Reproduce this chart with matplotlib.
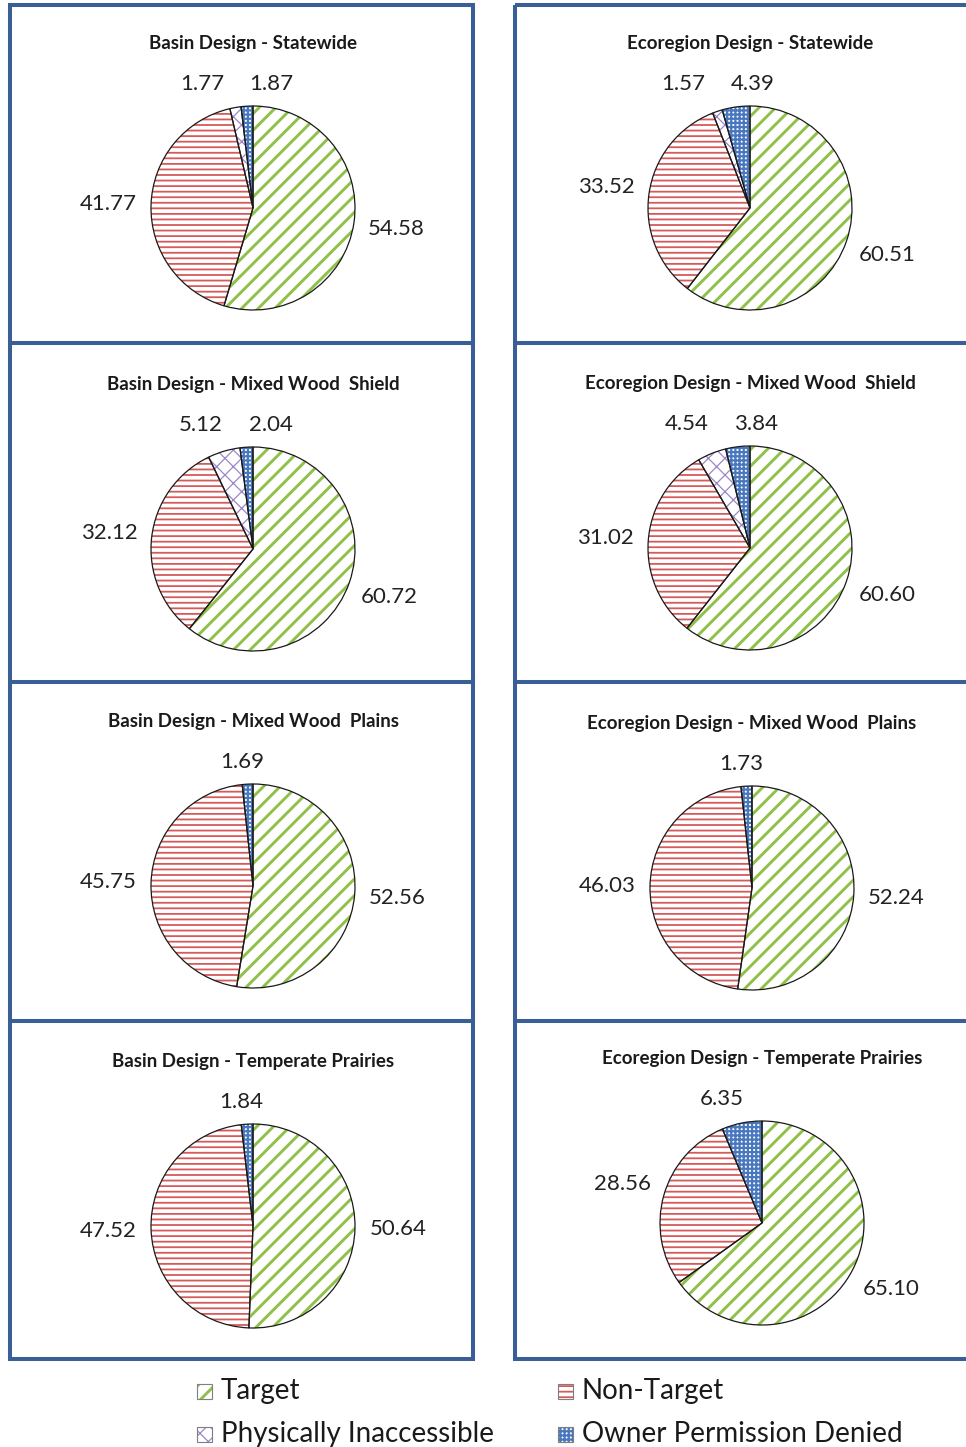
import numpy as np
import matplotlib.pyplot as plt
from matplotlib.patches import Rectangle

plt.rcParams["font.family"] = ["Lato", "DejaVu Sans"]
plt.rcParams["hatch.linewidth"] = 2.0

# categories in pie order (clockwise from 12 o'clock)
categories = ["Target", "Non-Target", "Physically Inaccessible", "Owner Permission Denied"]

titles = [
    "Basin Design - Statewide",
    "Ecoregion Design - Statewide",
    "Basin Design - Mixed Wood  Shield",
    "Ecoregion Design - Mixed Wood  Shield",
    "Basin Design - Mixed Wood  Plains",
    "Ecoregion Design - Mixed Wood  Plains",
    "Basin Design - Temperate Prairies",
    "Ecoregion Design - Temperate Prairies",
]

basin_statewide = [54.58, 41.77, 1.77, 1.87]
eco_statewide = [60.51, 33.52, 1.57, 4.39]
basin_mw_shield = [60.72, 32.12, 5.12, 2.04]
eco_mw_shield = [60.60, 31.02, 4.54, 3.84]
basin_mw_plains = [52.56, 45.75, 0.0, 1.69]
eco_mw_plains = [52.24, 46.03, 0.0, 1.73]
basin_prairies = [50.64, 47.52, 0.0, 1.84]
eco_prairies = [65.10, 28.56, 0.0, 6.35]

panels = [basin_statewide, eco_statewide, basin_mw_shield, eco_mw_shield,
          basin_mw_plains, eco_mw_plains, basin_prairies, eco_prairies]

# styling
hatch_colors = ["#8FC049", "#D55A5A", "#9C86C6", "#4A78BE"]
hatches = ["//", "---", "xx", "++++"]
hatch_lws = [2.1, 1.3, 0.9, 1.6]
box_color = "#3A5E96"

# layout (pixels)
W, H = 966, 1447
R = 102
L = 1.75
centers = [(253, 208), (750, 208), (253, 549), (750, 548),
           (253, 886), (752, 888), (253, 1226), (762, 1223)]

fig = plt.figure(figsize=(W / 100, H / 100), dpi=100)

# background overlay in pixel coordinates
bg = fig.add_axes([0, 0, 1, 1])
bg.set_xlim(0, W)
bg.set_ylim(H, 0)
bg.axis("off")

lw_box = 2.9
bg.add_patch(Rectangle((10, 5), 463, 1354, fill=False, ec=box_color, lw=lw_box))
bg.add_patch(Rectangle((515, 5), 480, 1354, fill=False, ec=box_color, lw=lw_box,
                       clip_on=False))
for yy in [343, 682, 1021]:
    bg.plot([10, 473], [yy, yy], color=box_color, lw=lw_box, solid_capstyle="butt")
    bg.plot([515, W + 10], [yy, yy], color=box_color, lw=lw_box, solid_capstyle="butt")


def set_hatch_lw(patch, lw):
    if hasattr(patch, "set_hatch_linewidth"):
        patch.set_hatch_linewidth(lw)


def label_positions(vals):
    total = sum(vals)
    mids = []
    start = 90.0
    for v in vals:
        sweep = v / total * 360
        mids.append(np.deg2rad(start - sweep / 2))
        start -= sweep
    pos = [None] * len(vals)
    for i in range(2):
        pos[i] = (1.42 * np.cos(mids[i]), 1.42 * np.sin(mids[i]))
    ox = 2.0 * np.cos(mids[3])
    if vals[2] > 0:
        ox += 0.3
        pos[2] = (ox - 0.68, 1.22)
    pos[3] = (ox, 1.22)
    return pos


for vals, title, (cx, cy) in zip(panels, titles, centers):
    size = 2 * L * R
    ax = fig.add_axes([(cx - L * R) / W, 1 - (cy + L * R) / H, size / W, size / H])

    idx = [i for i, v in enumerate(vals) if v > 0]
    v = [vals[i] for i in idx]
    wedges, _ = ax.pie(v, startangle=90, counterclock=False, radius=1,
                       colors=["white"] * len(v), hatch=[hatches[i] for i in idx],
                       wedgeprops=dict(linewidth=0))
    for w, i in zip(wedges, idx):
        w.set_edgecolor(hatch_colors[i])
        w.set_linewidth(0)
        set_hatch_lw(w, hatch_lws[i])
    outline, _ = ax.pie(v, startangle=90, counterclock=False, radius=1,
                        wedgeprops=dict(fill=False, edgecolor="#1a1a1a", linewidth=0.9))
    ax.set_xlim(-L, L)
    ax.set_ylim(-L, L)
    ax.axis("off")

    for i, p in enumerate(label_positions(vals)):
        if vals[i] > 0 and p is not None:
            ax.text(p[0], p[1], f"{vals[i]:.2f}", ha="center", va="center",
                    fontsize=16, color="#222222")
    ax.text(0, 1.61, title, ha="center", va="center", fontsize=13.5,
            fontweight="bold", color="#1a1a1a")

# legend
leg_items = [(197, 1391, 0), (558, 1391, 1), (197, 1434, 2), (558, 1434, 3)]
for x, y, i in leg_items:
    p = Rectangle((x, y - 7), 15, 15, facecolor="white", hatch=hatches[i],
                  edgecolor=hatch_colors[i], lw=0)
    set_hatch_lw(p, hatch_lws[i])
    bg.add_patch(p)
    bg.add_patch(Rectangle((x, y - 7), 15, 15, fill=False, edgecolor="#7f7f7f", lw=0.8))
    bg.text(x + 24, y, categories[i], ha="left", va="center", fontsize=20,
            color="#1a1a1a")

fig.savefig("out.png", dpi=100)
